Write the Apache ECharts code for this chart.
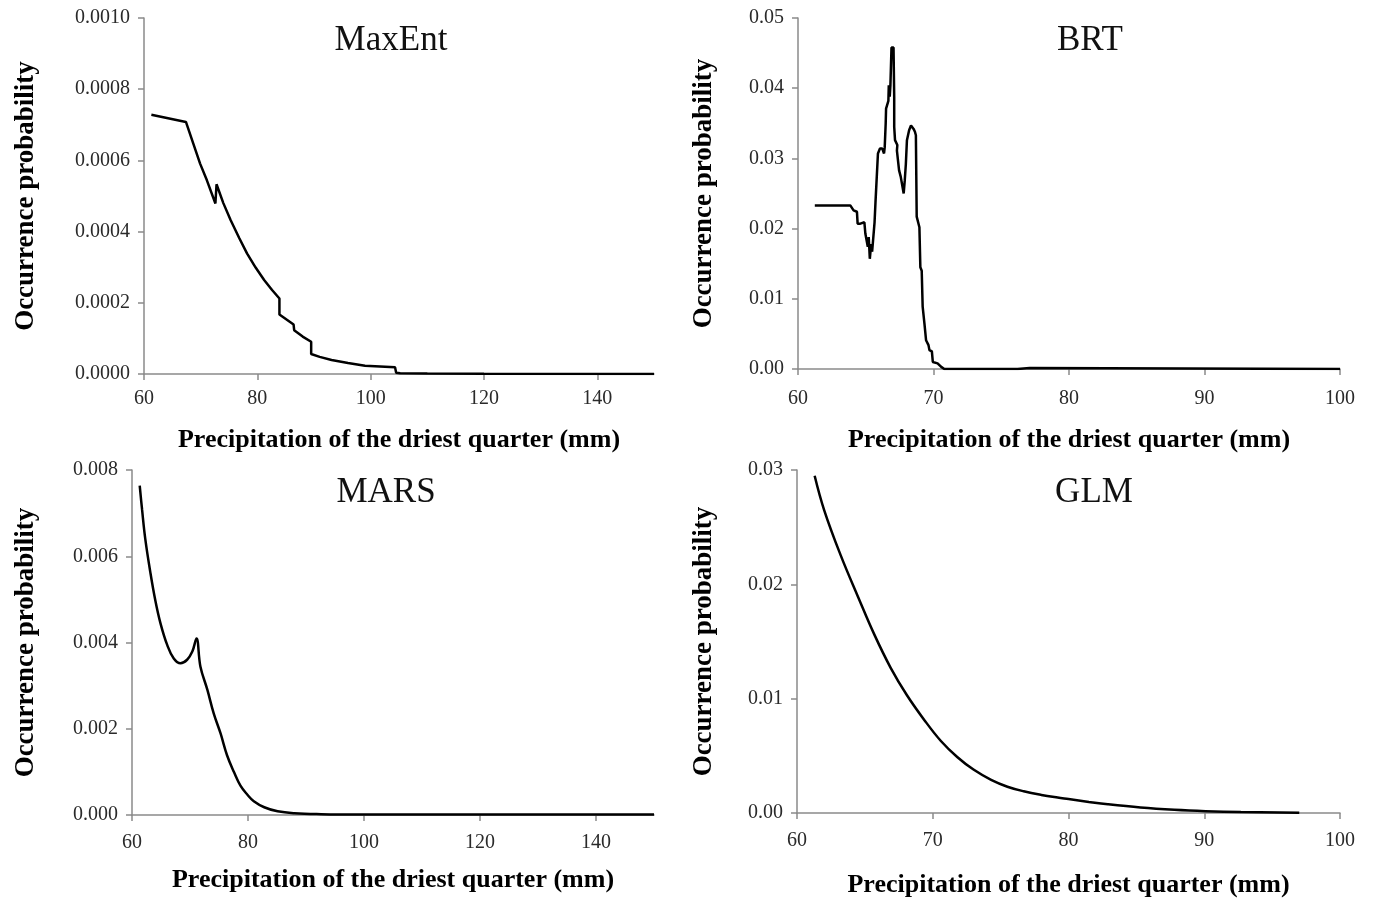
<!DOCTYPE html>
<html>
<head>
<meta charset="utf-8">
<script src="https://cdn.jsdelivr.net/npm/echarts@6/dist/echarts.min.js"></script>
<style>
  html, body { margin: 0; padding: 0; background: #fff; }
  #chart { width: 1375px; height: 899px; }
</style>
</head>
<body>
<div id="chart"></div>
<script>
// MaxEnt response curve
const maxentX = [61.3, 67.4, 68.7, 69.9, 71.1, 72.6, 72.8, 74.0, 75.3, 76.8, 78.2, 79.7, 81.2, 82.6, 83.9, 83.9, 86.4, 86.5, 88.0, 89.5, 89.5, 91.0, 93.1, 96.0, 99.0, 104.3, 104.5, 105.2, 110, 120, 150]
const maxentY = [0.000728, 0.000708, 0.000647, 0.000591, 0.000544, 0.000479, 0.000533, 0.000480, 0.000432, 0.000382, 0.000338, 0.000299, 0.000264, 0.000236, 0.000212, 0.000167, 0.000139, 0.000123, 0.000105, 0.0000907, 0.0000561, 0.000048, 0.0000393, 0.000031, 0.0000234, 0.0000187, 0.0000037, 0.000002, 0.0000012, 0.0000006, 0.0000003]

// BRT response curve
const brtX = [61.24, 63.86, 64.0, 64.1, 64.35, 64.4, 64.6, 64.65, 64.9, 64.97, 65.1, 65.15, 65.22, 65.3, 65.4, 65.47, 65.6, 65.65, 65.72, 65.85, 65.9, 66.05, 66.22, 66.35, 66.4, 66.47, 66.5, 66.67, 66.7, 66.77, 66.82, 66.9, 67.05, 67.1, 67.1, 67.16, 67.33, 67.3, 67.46, 67.58, 67.8, 67.88, 67.96, 68.04, 68.2, 68.34, 68.53, 68.63, 68.7, 68.76, 68.96, 69.03, 69.13, 69.2, 69.33, 69.45, 69.63, 69.7, 69.88, 69.95, 70.3, 70.57, 70.8, 76.2, 76.3, 77.1, 77.2, 100]
const brtY = [0.0233, 0.0233, 0.0231, 0.0226, 0.0224, 0.0207, 0.0207, 0.0209, 0.0209, 0.0193, 0.0192, 0.0174, 0.0188, 0.0157, 0.0178, 0.0167, 0.0169, 0.0209, 0.0238, 0.0240, 0.0307, 0.0314, 0.0314, 0.0307, 0.0316, 0.0349, 0.0371, 0.0382, 0.0404, 0.0388, 0.0404, 0.0458, 0.0458, 0.0387, 0.0345, 0.0326, 0.0319, 0.0311, 0.0283, 0.0274, 0.0250, 0.0269, 0.0292, 0.0326, 0.0340, 0.0347, 0.0342, 0.0338, 0.0333, 0.0217, 0.0202, 0.0145, 0.0140, 0.0089, 0.0065, 0.0041, 0.0034, 0.0027, 0.0025, 0.0010, 0.0008, 0.0003, 0.0, 0.0, 0.00015, 0.00015, 0.0, 0.0]

// MARS response curve
const marsX = [61.33, 61.73, 62.3, 63.17, 64.0, 64.9, 66.05, 67.2, 68.36, 69.5, 70.4, 71.12, 71.8, 73.0, 74.1, 75.27, 76.4, 77.6, 78.7, 79.9, 81.0, 82.8, 85.1, 88.0, 92.6, 100, 120, 150]
const marsY = [0.00764, 0.00709, 0.00639, 0.00562, 0.00499, 0.00445, 0.00395, 0.00363, 0.00352, 0.00360, 0.00379, 0.00409, 0.00344, 0.00290, 0.00235, 0.00189, 0.00138, 0.00099, 0.00068, 0.00047, 0.00032, 0.00018, 0.000085, 0.00004, 0.00002, 0.000012, 0.00001, 0.00001]

// GLM response curve
const glmX = [61.3, 62.0, 63.2, 64.5, 65.7, 66.9, 68.1, 69.4, 70.6, 71.8, 73.0, 74.3, 75.5, 76.7, 78.0, 79.2, 80.0, 81.5, 82.9, 85.3, 87.8, 90.1, 92.7, 97.0]
const glmY = [0.0295, 0.0265, 0.0226, 0.0189, 0.0156, 0.0127, 0.0103, 0.0081, 0.0063, 0.0049, 0.0038, 0.0029, 0.0023, 0.0019, 0.00158, 0.00135, 0.00122, 0.00097, 0.00076, 0.00048, 0.00028, 0.00016, 0.00008, 0.00002]

const titles = ['MaxEnt', 'BRT', 'MARS', 'GLM']
const xName = 'Precipitation of the driest quarter (mm)'
const yName = 'Occurrence probability'

const font = 'Liberation Serif, Times New Roman, serif'

const pairs = (xs, ys) => xs.map((x, i) => [x, ys[i]])

const grids = [
  { left: 144, top: 18, width: 510, height: 356 },
  { left: 798, top: 18, width: 542, height: 351 },
  { left: 132, top: 470, width: 522, height: 345 },
  { left: 797, top: 470, width: 543, height: 345 },
]

const xRanges = [
  { min: 60, max: 150, interval: 20 },
  { min: 60, max: 100, interval: 10 },
  { min: 60, max: 150, interval: 20 },
  { min: 60, max: 100, interval: 10 },
]
const yRanges = [
  { min: 0, max: 0.001, interval: 0.0002, dec: 4 },
  { min: 0, max: 0.05, interval: 0.01, dec: 2 },
  { min: 0, max: 0.008, interval: 0.002, dec: 3 },
  { min: 0, max: 0.03, interval: 0.01, dec: 2 },
]
const titleOffsets = [242, 287, 249, 292]
const xLabelMargins = [15, 20, 18, 18]
const xNameGaps = [53, 58, 52, 59]
const yNameGaps = [104, 80, 92, 79]

const axisLine = { lineStyle: { color: '#8a8a8a', width: 1.5 } }
const axisTick = { inside: false, length: 6, lineStyle: { color: '#8a8a8a', width: 1.5 } }

const myChart = echarts.init(document.getElementById('chart'))

const option = {
  backgroundColor: '#fff',
  animation: false,
  title: titles.map((t, i) => ({
    text: t,
    left: grids[i].left + titleOffsets[i],
    top: grids[i].top,
    textAlign: 'center',
    textStyle: { fontFamily: font, fontSize: 35, fontWeight: 'normal', color: '#111' },
  })),
  grid: grids,
  xAxis: xRanges.map((r, i) => ({
    type: 'value',
    gridIndex: i,
    min: r.min,
    max: r.max,
    interval: r.interval,
    name: xName,
    nameLocation: 'middle',
    nameGap: xNameGaps[i],
    nameTextStyle: { fontFamily: font, fontSize: 26, fontWeight: 'bold', color: '#000' },
    axisLine: axisLine,
    axisTick: axisTick,
    splitLine: { show: false },
    axisLabel: { fontFamily: font, fontSize: 20, color: '#2a2a2a', margin: xLabelMargins[i], showMaxLabel: r.max % r.interval === 0 },
  })),
  yAxis: yRanges.map((r, i) => ({
    type: 'value',
    gridIndex: i,
    min: r.min,
    max: r.max,
    interval: r.interval,
    name: yName,
    nameLocation: 'middle',
    nameGap: yNameGaps[i],
    nameTextStyle: { fontFamily: font, fontSize: 27, fontWeight: 'bold', color: '#000' },
    axisLine: { show: true, ...axisLine },
    axisTick: { show: true, ...axisTick },
    splitLine: { show: false },
    axisLabel: {
      fontFamily: font,
      fontSize: 20,
      color: '#2a2a2a',
      margin: 14,
      formatter: (v) => v.toFixed(r.dec),
    },
  })),
  series: [
    { data: pairs(maxentX, maxentY), smooth: false },
    { data: pairs(brtX, brtY), smooth: false },
    { data: pairs(marsX, marsY), smooth: 0.4 },
    { data: pairs(glmX, glmY), smooth: 0.4 },
  ].map((s, i) => ({
    type: 'line',
    xAxisIndex: i,
    yAxisIndex: i,
    showSymbol: false,
    lineStyle: { color: '#000', width: 2.5 },
    z: 5,
    ...s,
  })),
}

myChart.setOption(option)
</script>
</body>
</html>
